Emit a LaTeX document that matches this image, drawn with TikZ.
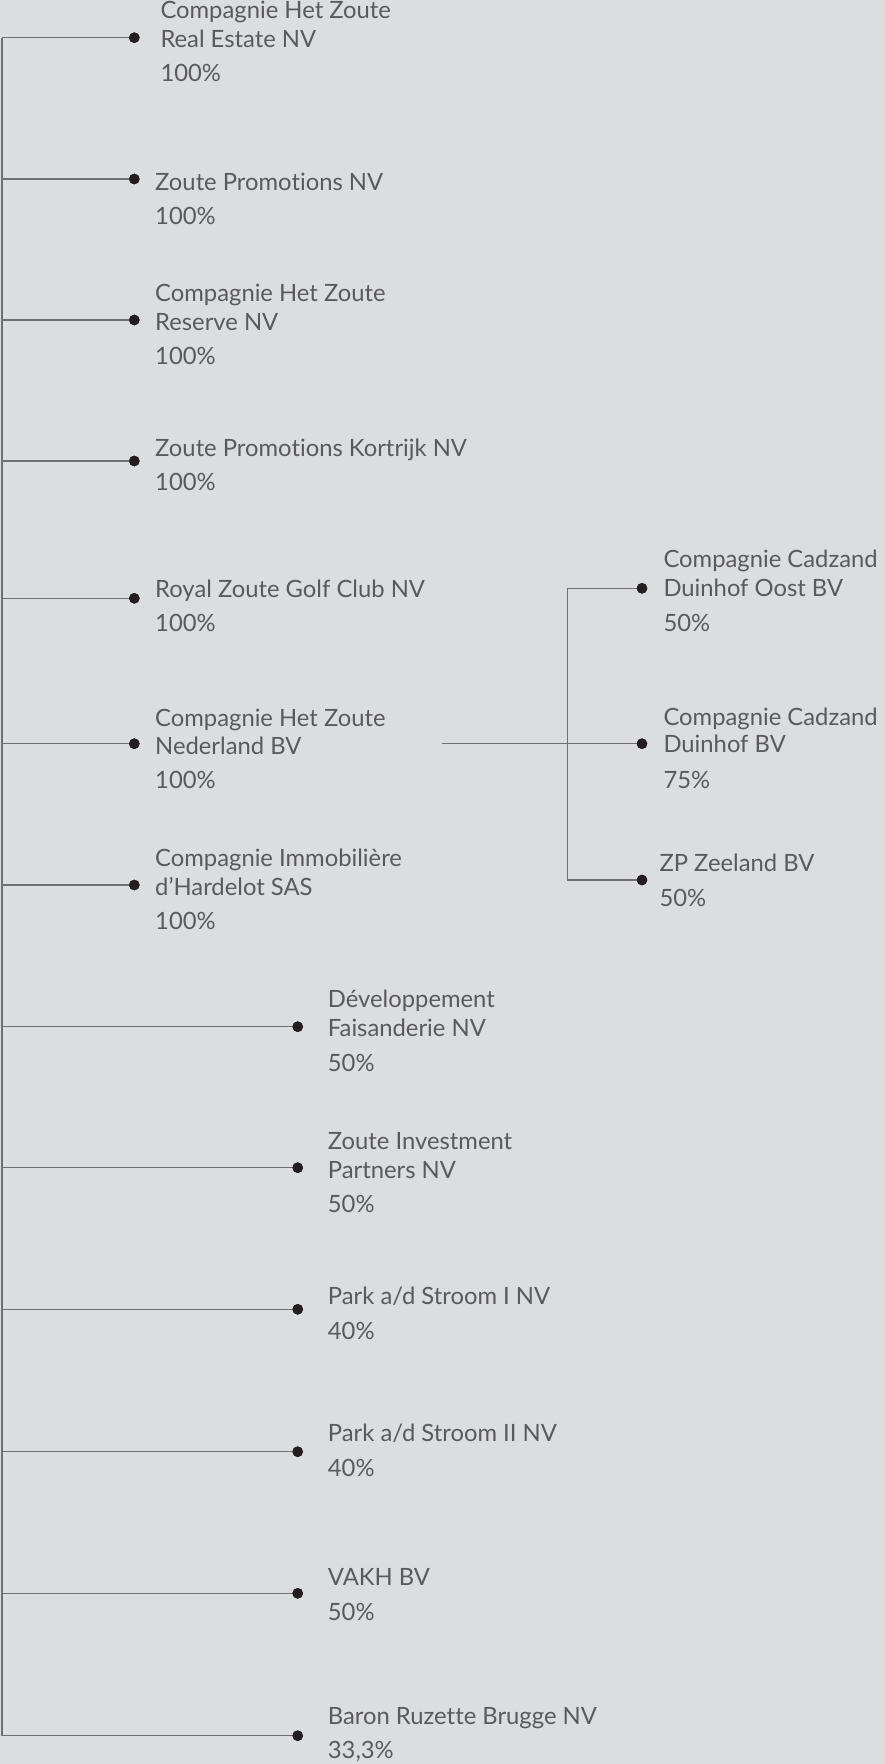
\documentclass[tikz,border=0pt]{standalone}
\usepackage{fontspec}
\setmainfont{Lato}[Ligatures={NoCommon}]
\definecolor{bg}{HTML}{DCDDDF}
\definecolor{txt}{HTML}{5A5A5C}
\definecolor{ln}{HTML}{707072}
\definecolor{dotc}{HTML}{231F20}
\tikzset{
  lbl/.style={anchor=base west, inner sep=0pt, text=txt, font=\fontsize{23.8}{28}\selectfont},
  dotnode/.style={circle, fill=dotc, inner sep=0pt, minimum size=10.6pt},
  conn/.style={draw=ln, line width=1.2pt},
}
\begin{document}
\begin{tikzpicture}[x=1pt,y=1pt]
\fill[bg] (0,0) rectangle (885,-1764);
\useasboundingbox (0,0) rectangle (885,-1764);
% trunk coordinates
\coordinate (r1) at (2,-37.7);
\coordinate (r2) at (2,-179);
\coordinate (r3) at (2,-320);
\coordinate (r4) at (2,-461);
\coordinate (r5) at (2,-598.3);
\coordinate (r6) at (2,-743.7);
\coordinate (r7) at (2,-885);
\coordinate (r8) at (2,-1026.7);
\coordinate (r9) at (2,-1167.7);
\coordinate (r10) at (2,-1309.3);
\coordinate (r11) at (2,-1451.7);
\coordinate (r12) at (2,-1593.3);
\coordinate (r13) at (2,-1735.7);
% dots
\node[dotnode] (d1) at (134.3,-37.7) {};
\node[dotnode] (d2) at (134.3,-179) {};
\node[dotnode] (d3) at (134.3,-320) {};
\node[dotnode] (d4) at (134.3,-461) {};
\node[dotnode] (d5) at (134.3,-598.3) {};
\node[dotnode] (d6) at (134.3,-743.7) {};
\node[dotnode] (d7) at (134.3,-885) {};
\node[dotnode] (d8) at (297.7,-1026.7) {};
\node[dotnode] (d9) at (297.7,-1167.7) {};
\node[dotnode] (d10) at (297.7,-1309.3) {};
\node[dotnode] (d11) at (297.7,-1451.7) {};
\node[dotnode] (d12) at (297.7,-1593.3) {};
\node[dotnode] (d13) at (297.7,-1735.7) {};
\node[dotnode] (e1) at (642,-588.3) {};
\node[dotnode] (e2) at (642,-743.7) {};
\node[dotnode] (e3) at (642,-880) {};
% sub-tree coordinates
\coordinate (p6) at (441.7,-743.7);
\coordinate (s1) at (567.3,-588.3);
\coordinate (s3) at (567.3,-880);
% connectors
\draw[conn] (r1) -- (r13);
\foreach \i in {1,...,13} { \draw[conn] (r\i) -- (d\i.center); }
\draw[conn] (p6) -- (e2.center);
\draw[conn] (s1) -- (s3);
\draw[conn] (s1) -- (e1.center);
\draw[conn] (s3) -- (e3.center);
% redraw dots on top
\foreach \n in {d1,d2,d3,d4,d5,d6,d7,d8,d9,d10,d11,d12,d13,e1,e2,e3} { \fill[dotc] (\n.center) circle (5.3); }
% labels
\node[lbl] (t1a) at (160.3,-18.3) {Compagnie Het Zoute};
\node[lbl] (t1b) at (160.3,-47.7) {Real Estate NV};
\node[lbl] (t1c) at (160.3,-81.7) {100\%};
\node[lbl] (t2a) at (155,-190) {Zoute Promotions NV};
\node[lbl] (t2c) at (155,-224) {100\%};
\node[lbl] (t3a) at (155,-301) {Compagnie Het Zoute};
\node[lbl] (t3b) at (155,-330) {Reserve NV};
\node[lbl] (t3c) at (155,-364) {100\%};
\node[lbl] (t4a) at (155,-456.7) {Zoute Promotions Kortrijk NV};
\node[lbl] (t4c) at (155,-490) {100\%};
\node[lbl] (t5a) at (155,-597.7) {Royal Zoute Golf Club NV};
\node[lbl] (t5c) at (155,-631.7) {100\%};
\node[lbl] (t6a) at (155,-726) {Compagnie Het Zoute};
\node[lbl] (t6b) at (155,-754.3) {Nederland BV};
\node[lbl] (t6c) at (155,-788.3) {100\%};
\node[lbl] (t7a) at (155,-866) {Compagnie Immobilière};
\node[lbl] (t7b) at (155,-895) {d’Hardelot SAS};
\node[lbl] (t7c) at (155,-929.3) {100\%};
\node[lbl] (t8a) at (327.7,-1007.7) {Développement};
\node[lbl] (t8b) at (327.7,-1036) {Faisanderie NV};
\node[lbl] (t8c) at (327.7,-1071) {50\%};
\node[lbl] (t9a) at (327.7,-1149.3) {Zoute Investment};
\node[lbl] (t9b) at (327.7,-1178.3) {Partners NV};
\node[lbl] (t9c) at (327.7,-1212.3) {50\%};
\node[lbl] (t10a) at (327.7,-1304.3) {Park a/d Stroom I NV};
\node[lbl] (t10c) at (327.7,-1339) {40\%};
\node[lbl] (t11a) at (327.7,-1441.7) {Park a/d Stroom II NV};
\node[lbl] (t11c) at (327.7,-1476) {40\%};
\node[lbl] (t12a) at (327.7,-1585) {VAKH BV};
\node[lbl] (t12c) at (327.7,-1620) {50\%};
\node[lbl] (t13a) at (327.7,-1724.3) {Baron Ruzette Brugge NV};
\node[lbl] (t13c) at (327.7,-1758.3) {33,3\%};
\node[lbl] (u1a) at (663.3,-567.7) {Compagnie Cadzand};
\node[lbl] (u1b) at (663.3,-596.7) {Duinhof Oost BV};
\node[lbl] (u1c) at (663.3,-631.7) {50\%};
\node[lbl] (u2a) at (663.3,-725) {Compagnie Cadzand};
\node[lbl] (u2b) at (663.3,-752.7) {Duinhof BV};
\node[lbl] (u2c) at (663.3,-788.3) {75\%};
\node[lbl] (u3a) at (659.3,-871.7) {ZP Zeeland BV};
\node[lbl] (u3c) at (659.3,-906.7) {50\%};
\end{tikzpicture}
\end{document}
